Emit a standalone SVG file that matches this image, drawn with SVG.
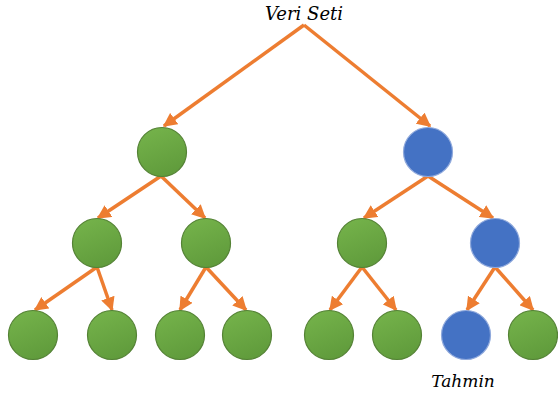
<svg xmlns="http://www.w3.org/2000/svg" width="558" height="396" viewBox="0 0 558 396">
<defs>
<linearGradient id="g" x1="0.3" y1="0" x2="0.7" y2="1">
<stop offset="0" stop-color="#74b24a"/>
<stop offset="1" stop-color="#5f9a3b"/>
</linearGradient>
<marker id="ah" viewBox="0 0 10 10" refX="9" refY="5" markerWidth="4" markerHeight="4" orient="auto" markerUnits="strokeWidth">
<path d="M0,0 L10,5 L0,10 z" fill="#ed7d31"/>
</marker>
</defs>
<style>
.g{fill:url(#g);stroke:#548235;stroke-width:1.2}
.b{fill:#4472c4;stroke:#8fa9dc;stroke-width:1.2}
.e{stroke:#ed7d31;stroke-width:3.5;fill:none;marker-end:url(#ah)}
.t{font-family:'DejaVu Serif',serif;font-style:italic;fill:#000}
</style>
<g id="connectors">
<line class="e" x1="304" y1="25" x2="164" y2="126"/>
<line class="e" x1="304" y1="25" x2="430" y2="126"/>
<line class="e" x1="161" y1="176" x2="98" y2="218"/>
<line class="e" x1="161" y1="176" x2="205" y2="218"/>
<line class="e" x1="428" y1="176" x2="364" y2="218"/>
<line class="e" x1="428" y1="176" x2="493" y2="218"/>
<line class="e" x1="97" y1="267" x2="35" y2="310"/>
<line class="e" x1="97" y1="267" x2="112" y2="310"/>
<line class="e" x1="206" y1="267" x2="180" y2="310"/>
<line class="e" x1="206" y1="267" x2="246" y2="310"/>
<line class="e" x1="362" y1="267" x2="330" y2="310"/>
<line class="e" x1="362" y1="267" x2="396" y2="310"/>
<line class="e" x1="495" y1="267" x2="467" y2="310"/>
<line class="e" x1="495" y1="267" x2="533" y2="310"/>
</g>
<g id="root"><text class="t" x="304" y="20" font-size="18" text-anchor="middle">Veri Seti</text></g>
<g id="n1"><circle class="g" cx="162" cy="152" r="24.5"/></g>
<g id="n2"><circle class="b" cx="428" cy="152" r="24.5"/></g>
<g id="n3"><circle class="g" cx="97" cy="243" r="24.5"/></g>
<g id="n4"><circle class="g" cx="206" cy="243" r="24.5"/></g>
<g id="n5"><circle class="g" cx="362" cy="243" r="24.5"/></g>
<g id="n6"><circle class="b" cx="495" cy="243" r="24.5"/></g>
<g id="n7"><circle class="g" cx="33" cy="335" r="24.5"/></g>
<g id="n8"><circle class="g" cx="112" cy="335" r="24.5"/></g>
<g id="n9"><circle class="g" cx="180" cy="335" r="24.5"/></g>
<g id="n10"><circle class="g" cx="247" cy="335" r="24.5"/></g>
<g id="n11"><circle class="g" cx="329" cy="335" r="24.5"/></g>
<g id="n12"><circle class="g" cx="397" cy="335" r="24.5"/></g>
<g id="n13"><circle class="b" cx="466" cy="335" r="24.5"/></g>
<g id="n14"><circle class="g" cx="533" cy="335" r="24.5"/></g>
<g id="label"><text class="t" x="463" y="387" font-size="17" text-anchor="middle">Tahmin</text></g>
</svg>
